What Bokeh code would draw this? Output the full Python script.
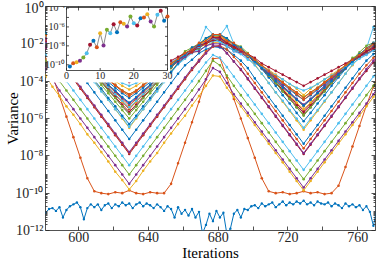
from math import pi
from bokeh.plotting import figure
from bokeh.models import (Range1d, LogScale, LinearAxis, LogAxis, FixedTicker,
                          CustomJSTickFormatter)
from bokeh.core.properties import value
from bokeh.embed import file_html
from bokeh.resources import INLINE

# ---------------- data (log10 of variance) ----------------
iterations = list(range(581, 778, 4))        # 50 samples
iterations_fine = list(range(581, 778, 2))   # 99 samples (run 1)

log_var_01 = [-11.05, -10.85, -10.8, -10.95, -10.75, -11.3, -10.9, -10.7, -10.6, -10.5,
              -10.75, -11.4, -10.8, -10.6, -10.75, -10.6, -10.9, -10.65, -10.55, -10.8,
              -10.6, -10.7, -10.5, -10.65, -10.55, -10.8, -10.6, -10.5, -10.7, -10.55,
              -10.65, -10.8, -10.6, -10.75, -10.95, -10.7, -10.85, -11.3, -10.75, -11.1,
              -10.9, -11.2, -10.85, -11.3, -11.0, -12.15, -11.7, -11.1, -11.5, -10.95,
              -11.3, -11.05, -12.2, -11.9, -11.1, -10.9, -11.3, -10.85, -10.9, -10.7,
              -10.65, -10.8, -10.55, -10.7, -10.6, -10.5, -10.75, -10.6, -10.45, -10.65,
              -10.5, -10.6, -10.45, -10.55, -10.4, -10.6, -10.5, -10.65, -10.45, -10.55,
              -10.6, -10.5, -10.7, -10.55, -10.65, -10.8, -10.55, -10.7, -10.6, -10.75,
              -10.65, -10.9, -10.7, -11.0, -11.75, -10.8, -11.85, -10.9, -11.0]
log_var_02 = [-2.8, -3.7, -4.8, -5.9, -7.0, -8.1, -9.2, -9.9, -10.0, -10.05, -9.95, -10.0, -9.85,
              -10.0, -10.05, -9.95, -10.0, -10.0, -9.5, -8.4, -7.3, -6.2, -5.1, -3.9, -2.8,
              -2.75, -3.8, -4.95, -6.0, -7.05, -8.1, -9.2, -9.9, -10.0, -9.95, -10.05, -10.0, -9.9,
              -10.0, -9.95, -10.05, -10.0, -9.6, -8.6, -7.5, -6.4, -5.3, -4.3, -3.4, -2.85]
log_var_03 = [-3.7, -4.3, -4.8, -5.35, -5.8, -6.3, -6.85, -7.3, -7.8, -8.3, -8.85, -9.3, -9.8,
              -9.35, -8.8, -8.3, -7.85, -7.3, -6.8, -6.3, -5.85, -5.3, -4.8, -4.25, -3.7,
              -3.75, -4.35, -4.85, -5.35, -5.85, -6.35, -6.85, -7.35, -7.85, -8.35, -8.85, -9.35, -9.85,
              -9.35, -8.85, -8.35, -7.85, -7.35, -6.85, -6.35, -5.85, -5.35, -4.85, -4.3, -3.75]
log_var_04 = [-3.3, -3.9, -4.5, -5.0, -5.5, -6.0, -6.5, -7.0, -7.5, -8.0, -8.5, -9.0, -9.5,
              -9.0, -8.5, -8.0, -7.5, -7.0, -6.5, -6.0, -5.5, -5.0, -4.45, -3.9, -3.3,
              -3.5, -4.1, -4.7, -5.2, -5.7, -6.2, -6.7, -7.2, -7.7, -8.2, -8.7, -9.2, -9.7,
              -9.2, -8.7, -8.2, -7.7, -7.2, -6.7, -6.2, -5.7, -5.2, -4.7, -4.1, -3.5]
log_var_05 = [-2.9, -3.45, -4.0, -4.5, -5.0, -5.5, -6.0, -6.5, -7.0, -7.5, -8.0, -8.5, -9.0,
              -8.5, -8.0, -7.5, -7.0, -6.5, -6.0, -5.5, -5.0, -4.5, -4.0, -3.45, -2.9,
              -3.15, -3.7, -4.25, -4.75, -5.25, -5.75, -6.25, -6.75, -7.25, -7.75, -8.25, -8.75, -9.25,
              -8.75, -8.25, -7.75, -7.25, -6.75, -6.25, -5.75, -5.25, -4.75, -4.25, -3.7, -3.15]
log_var_06 = [-2.55, -3.0, -3.5, -4.0, -4.5, -5.0, -5.5, -6.0, -6.5, -7.0, -7.5, -8.0, -8.5,
              -8.0, -7.5, -7.0, -6.5, -6.0, -5.5, -5.0, -4.5, -4.0, -3.5, -3.0, -2.6,
              -2.75, -3.25, -3.75, -4.25, -4.75, -5.25, -5.75, -6.25, -6.75, -7.25, -7.75, -8.25, -8.75,
              -8.25, -7.75, -7.25, -6.75, -6.25, -5.75, -5.25, -4.75, -4.25, -3.75, -3.25, -2.8]
log_var_07 = [-2.2, -2.55, -2.95, -3.4, -3.9, -4.4, -4.9, -5.4, -5.9, -6.4, -6.9, -7.4, -7.9,
              -7.4, -6.9, -6.4, -5.9, -5.4, -4.9, -4.4, -3.9, -3.4, -2.95, -2.5, -2.15,
              -2.1, -2.5, -2.95, -3.4, -3.9, -4.4, -4.9, -5.4, -5.9, -6.4, -6.9, -7.4, -7.9,
              -7.4, -6.9, -6.4, -5.9, -5.4, -4.9, -4.4, -3.9, -3.45, -3.0, -2.55, -2.2]
log_var_08 = [-2.05, -2.4, -2.6, -2.75, -3.15, -3.6, -4.1, -4.6, -5.1, -5.6, -6.1, -6.6, -7.1,
              -6.6, -6.1, -5.6, -5.1, -4.6, -4.1, -3.6, -3.15, -2.85, -2.5, -2.3, -2.15,
              -2.2, -2.3, -2.6, -2.9, -3.3, -3.85, -4.35, -4.85, -5.35, -5.85, -6.35, -6.85, -7.35,
              -6.85, -6.35, -5.85, -5.35, -4.85, -4.35, -3.85, -3.35, -2.9, -2.55, -2.35, -2.0]
log_var_09 = [-2.0, -2.5, -2.9, -3.35, -3.85, -4.35, -4.85, -5.35, -5.85, -6.35, -6.85, -7.35, -7.85,
              -7.35, -6.85, -6.35, -5.85, -5.35, -4.85, -4.35, -3.85, -3.35, -2.85, -2.4, -2.15,
              -2.1, -2.3, -2.7, -3.1, -3.6, -4.1, -4.6, -5.1, -5.6, -6.1, -6.6, -7.1, -7.6,
              -7.1, -6.6, -6.1, -5.6, -5.1, -4.6, -4.1, -3.6, -3.15, -2.75, -2.4, -2.0]
log_var_10 = [-1.85, -2.2, -2.3, -2.55, -2.7, -3.05, -3.5, -4.0, -4.5, -5.0, -5.5, -6.0, -6.5,
              -6.0, -5.5, -5.0, -4.5, -4.0, -3.5, -3.0, -2.75, -2.45, -2.4, -2.1, -1.95,
              -1.9, -2.15, -2.35, -2.45, -2.75, -3.1, -3.6, -4.1, -4.6, -5.1, -5.6, -6.1, -6.6,
              -6.1, -5.6, -5.1, -4.6, -4.1, -3.6, -3.15, -2.7, -2.5, -2.3, -2.05, -1.8]
log_var_11 = [-2.2, -2.4, -2.85, -3.3, -3.8, -4.3, -4.8, -5.3, -5.8, -6.3, -6.8, -7.3, -7.8,
              -7.3, -6.8, -6.3, -5.8, -5.3, -4.8, -4.3, -3.8, -3.3, -2.9, -2.5, -2.1,
              -2.15, -2.5, -2.95, -3.35, -3.85, -4.35, -4.85, -5.35, -5.85, -6.35, -6.85, -7.35, -7.85,
              -7.35, -6.85, -6.35, -5.85, -5.35, -4.85, -4.35, -3.85, -3.35, -2.9, -2.45, -2.25]
log_var_12 = [-1.75, -2.05, -2.25, -2.35, -2.65, -2.95, -3.3, -3.75, -4.2, -4.65, -5.1, -5.55, -6.0,
              -5.55, -5.1, -4.65, -4.2, -3.75, -3.3, -2.9, -2.55, -2.45, -2.15, -1.95, -1.85,
              -1.8, -1.95, -2.25, -2.35, -2.65, -2.8, -3.2, -3.6, -4.05, -4.5, -4.95, -5.4, -5.85,
              -5.4, -4.95, -4.5, -4.05, -3.6, -3.2, -2.75, -2.6, -2.4, -2.2, -2.05, -1.75]
log_var_13 = [-1.95, -2.05, -2.3, -2.55, -2.75, -3.15, -3.55, -4.05, -4.55, -5.0, -5.5, -5.95, -6.45,
              -5.95, -5.5, -5.0, -4.55, -4.05, -3.55, -3.1, -2.8, -2.5, -2.3, -2.15, -1.85,
              -1.85, -2.15, -2.35, -2.45, -2.8, -3.15, -3.6, -4.1, -4.6, -5.05, -5.55, -6.0, -6.5,
              -6.0, -5.55, -5.05, -4.6, -4.1, -3.6, -3.1, -2.75, -2.55, -2.35, -2.1, -1.95]
log_var_14 = [-1.65, -2.0, -2.1, -2.4, -2.55, -2.9, -3.2, -3.6, -4.0, -4.35, -4.75, -5.1, -5.5,
              -5.1, -4.75, -4.35, -4.0, -3.6, -3.25, -2.85, -2.65, -2.3, -2.2, -1.9, -1.75,
              -1.7, -1.9, -2.15, -2.35, -2.6, -2.95, -3.3, -3.7, -4.1, -4.45, -4.85, -5.2, -5.6,
              -5.2, -4.85, -4.45, -4.1, -3.7, -3.3, -2.95, -2.6, -2.4, -2.1, -1.95, -1.6]
log_var_15 = [-1.75, -2.05, -2.2, -2.45, -2.7, -3.05, -3.5, -3.95, -4.4, -4.9, -5.35, -5.85, -6.3,
              -5.85, -5.35, -4.9, -4.4, -3.95, -3.5, -3.05, -2.7, -2.4, -2.25, -1.95, -1.8,
              -1.85, -2.0, -2.3, -2.4, -2.65, -2.95, -3.35, -3.8, -4.25, -4.75, -5.2, -5.7, -6.15,
              -5.7, -5.2, -4.75, -4.25, -3.8, -3.35, -2.95, -2.7, -2.45, -2.2, -2.0, -1.7]
log_var_16 = [-1.55, -1.9, -2.0, -2.3, -2.5, -2.9, -3.2, -3.55, -3.9, -4.25, -4.6, -4.95, -5.3,
              -4.95, -4.6, -4.25, -3.9, -3.55, -3.2, -2.85, -2.6, -2.25, -2.1, -1.8, -1.65,
              -1.6, -1.85, -2.1, -2.3, -2.55, -2.9, -3.25, -3.6, -3.95, -4.3, -4.65, -5.0, -5.35,
              -5.0, -4.65, -4.3, -3.95, -3.6, -3.25, -2.9, -2.55, -2.35, -2.0, -1.85, -1.55]
log_var_17 = [-1.8, -1.95, -2.25, -2.35, -2.7, -2.95, -3.25, -3.6, -3.95, -4.35, -4.7, -5.1, -5.45,
              -5.1, -4.7, -4.35, -3.95, -3.6, -3.2, -2.9, -2.6, -2.45, -2.15, -2.05, -1.75,
              -1.75, -2.05, -2.15, -2.45, -2.65, -3.0, -3.3, -3.65, -4.0, -4.4, -4.75, -5.15, -5.5,
              -5.15, -4.75, -4.4, -4.0, -3.65, -3.3, -2.95, -2.7, -2.35, -2.25, -1.95, -1.85]
log_var_18 = [-1.9, -2.2, -2.3, -2.55, -2.6, -2.9, -3.3, -3.65, -4.05, -4.5, -4.9, -5.35, -5.75,
              -5.35, -4.9, -4.5, -4.05, -3.65, -3.25, -2.95, -2.7, -2.45, -2.4, -2.1, -2.0,
              -2.0, -2.1, -2.4, -2.5, -2.7, -2.9, -3.3, -3.7, -4.1, -4.55, -4.95, -5.4, -5.8,
              -5.4, -4.95, -4.55, -4.1, -3.7, -3.3, -2.85, -2.65, -2.55, -2.3, -2.2, -1.9]
log_var_19 = [-1.65, -2.0, -2.15, -2.45, -2.55, -2.85, -3.1, -3.35, -3.65, -3.9, -4.2, -4.5, -4.7,
              -4.5, -4.2, -3.9, -3.65, -3.35, -3.05, -2.85, -2.65, -2.35, -2.25, -1.9, -1.75,
              -1.75, -1.9, -2.2, -2.35, -2.65, -2.9, -3.2, -3.5, -3.8, -4.05, -4.35, -4.6, -4.85,
              -4.6, -4.35, -4.05, -3.8, -3.5, -3.2, -2.95, -2.6, -2.45, -2.15, -2.0, -1.65]
log_var_20 = [-1.6, -1.8, -2.1, -2.25, -2.65, -2.9, -3.25, -3.6, -3.95, -4.35, -4.7, -5.05, -5.4,
              -5.05, -4.7, -4.35, -3.95, -3.6, -3.25, -2.9, -2.55, -2.35, -2.0, -1.1, -1.5,
              -1.55, -1.05, -2.0, -2.35, -2.55, -2.85, -3.15, -3.5, -3.85, -4.25, -4.6, -4.95, -5.3,
              -4.95, -4.6, -4.25, -3.85, -3.5, -3.15, -2.85, -2.6, -2.25, -1.1, -1.8, -1.6]
log_var_21 = [-1.85, -1.95, -2.25, -2.4, -2.7, -2.95, -3.25, -3.65, -4.05, -4.45, -4.85, -5.25, -5.65,
              -5.25, -4.85, -4.45, -4.05, -3.65, -3.25, -2.9, -2.6, -2.45, -2.15, -2.0, -1.8,
              -1.8, -2.05, -2.2, -2.4, -2.65, -3.0, -3.3, -3.7, -4.1, -4.5, -4.9, -5.3, -5.7,
              -5.3, -4.9, -4.5, -4.1, -3.7, -3.3, -2.95, -2.7, -2.4, -2.2, -1.95, -1.85]
log_var_22 = [-1.45, -1.8, -2.0, -2.3, -2.6, -2.85, -3.15, -3.45, -3.75, -4.05, -4.35, -4.65, -4.9,
              -4.65, -4.35, -4.05, -3.75, -3.45, -3.15, -2.85, -2.55, -2.35, -2.05, -1.7, -1.55,
              -1.5, -1.75, -2.05, -2.3, -2.65, -2.95, -3.25, -3.55, -3.85, -4.15, -4.45, -4.75, -5.0,
              -4.75, -4.45, -4.15, -3.85, -3.55, -3.25, -2.95, -2.6, -2.3, -2.1, -1.75, -1.4]
log_var_23 = [-1.7, -1.9, -2.2, -2.3, -2.6, -2.8, -3.05, -3.35, -3.65, -3.95, -4.25, -4.55, -4.8,
              -4.55, -4.25, -3.95, -3.65, -3.35, -3.05, -2.8, -2.5, -2.4, -2.1, -2.0, -1.65,
              -1.65, -2.0, -2.1, -2.4, -2.6, -2.9, -3.2, -3.5, -3.8, -4.1, -4.4, -4.7, -5.0,
              -4.7, -4.4, -4.1, -3.8, -3.5, -3.2, -2.9, -2.55, -2.35, -2.2, -1.9, -1.75]
log_var_24 = [-1.55, -1.85, -2.1, -2.35, -2.55, -2.75, -3.0, -3.25, -3.5, -3.75, -4.0, -4.25, -4.45,
              -4.25, -4.0, -3.75, -3.5, -3.25, -3.0, -2.8, -2.5, -2.3, -2.15, -1.8, -1.6,
              -1.65, -1.8, -2.15, -2.35, -2.65, -2.9, -3.15, -3.4, -3.65, -3.9, -4.15, -4.4, -4.75,
              -4.4, -4.15, -3.9, -3.65, -3.4, -3.15, -2.9, -2.6, -2.35, -2.1, -1.9, -1.55]
log_var_25 = [-1.75, -1.9, -2.2, -2.35, -2.6, -2.9, -3.2, -3.5, -3.85, -4.2, -4.55, -4.9, -5.2,
              -4.9, -4.55, -4.2, -3.85, -3.5, -3.2, -2.85, -2.65, -2.3, -2.2, -1.9, -1.7,
              -1.7, -2.0, -2.1, -2.4, -2.55, -2.95, -3.25, -3.55, -3.9, -4.25, -4.6, -4.95, -5.25,
              -4.95, -4.6, -4.25, -3.9, -3.55, -3.25, -2.9, -2.6, -2.4, -2.15, -1.95, -1.7]
log_var_26 = [-1.45, -1.8, -1.9, -2.15, -2.45, -2.8, -3.2, -3.65, -4.05, -4.5, -4.9, -5.35, -5.75,
              -5.35, -4.9, -4.5, -4.05, -3.65, -3.25, -2.8, -2.4, -2.2, -2.0, -1.7, -1.5,
              -1.55, -1.7, -2.0, -2.15, -2.5, -2.85, -3.25, -3.7, -4.1, -4.55, -4.95, -5.4, -5.8,
              -5.4, -4.95, -4.55, -4.1, -3.7, -3.25, -2.85, -2.45, -2.1, -1.95, -1.8, -1.45]
log_var_27 = [-1.65, -1.95, -2.1, -2.3, -2.55, -2.8, -3.0, -3.2, -3.45, -3.65, -3.9, -4.1, -4.25,
              -4.1, -3.9, -3.65, -3.45, -3.2, -3.0, -2.75, -2.6, -2.3, -2.15, -1.9, -1.7,
              -1.9, -2.1, -2.4, -2.55, -2.85, -3.0, -3.25, -3.45, -3.7, -3.9, -4.15, -4.35, -4.5,
              -4.35, -4.15, -3.9, -3.7, -3.45, -3.25, -3.05, -2.8, -2.6, -2.35, -2.2, -1.85]
log_var_28 = [-1.7, -1.85, -2.1, -2.25, -2.5, -2.7, -2.9, -3.1, -3.3, -3.5, -3.7, -3.9, -4.05,
              -3.9, -3.7, -3.5, -3.3, -3.1, -2.9, -2.7, -2.5, -2.35, -2.1, -1.95, -1.65,
              -1.65, -1.95, -2.15, -2.35, -2.55, -2.75, -3.05, -3.25, -3.45, -3.65, -3.85, -4.05, -4.25,
              -4.05, -3.85, -3.65, -3.45, -3.25, -3.05, -2.85, -2.65, -2.4, -2.25, -1.95, -1.85]
log_var_29 = [-1.4, -1.8, -1.95, -2.25, -2.5, -2.9, -3.2, -3.55, -3.85, -4.2, -4.5, -4.85, -5.15,
              -4.85, -4.5, -4.2, -3.85, -3.55, -3.2, -2.85, -2.6, -2.2, -2.05, -1.7, -1.5,
              -1.5, -1.7, -2.05, -2.2, -2.6, -2.95, -3.3, -3.65, -4.0, -4.35, -4.65, -5.0, -5.3,
              -5.0, -4.65, -4.35, -4.0, -3.65, -3.3, -2.95, -2.55, -2.25, -1.95, -1.75, -1.35]
log_var_30 = [-1.55, -1.75, -2.05, -2.2, -2.55, -2.8, -3.1, -3.35, -3.65, -3.9, -4.2, -4.5, -4.7,
              -4.5, -4.2, -3.9, -3.65, -3.35, -3.05, -2.8, -2.5, -2.3, -1.95, -1.85, -1.5,
              -1.5, -1.85, -1.95, -2.3, -2.55, -2.85, -3.15, -3.45, -3.75, -4.05, -4.35, -4.6, -4.9,
              -4.6, -4.35, -4.05, -3.75, -3.45, -3.15, -2.85, -2.6, -2.25, -2.0, -1.8, -1.55]

# inset: one value per run
inset_runs = list(range(1, 31))
inset_log_var = [-10.18, -9.83, -9.73, -9.58, -9.23, -8.78, -7.89, -7.47, -8.14, -6.66,
                 -7.96, -6.3, -6.66, -5.71, -6.56, -5.5, -5.67, -5.96, -4.9, -5.61,
                 -5.85, -5.08, -5.01, -4.66, -5.43, -5.96, -4.72, -4.3, -5.35, -4.9]

x_tick_values = [580, 600, 620, 640, 660, 680, 700, 720, 740, 760, 780]
inset_x_ticks = [0, 10, 20, 30]
inset_x_labels = ["0", "10", "20", "30"]
inset_y_ticks = [1e-10, 1e-9, 1e-8, 1e-7, 1e-6, 1e-5, 1e-4]
inset_y_label_values = [1e-10, 1e-8, 1e-6, 1e-4]
inset_y_labels = ["10\u207b\u00b9\u2070", "10\u207b\u2078", "10\u207b\u2076", "10\u207b\u2074"]

# ---------------- style ----------------
MATLAB = ["#0072BD", "#D95319", "#EDB120", "#7E2F8E", "#77AC30", "#4DBEEE", "#A2142F"]
FONT = "Liberation Serif"
AX = "#262626"
FW, FH = 330, 224

p = figure(frame_width=FW, frame_height=FH, y_axis_type="log",
           x_range=Range1d(581, 770.2), y_range=Range1d(1e-12, 1.0),
           output_backend="svg", toolbar_location=None,
           min_border_left=45, min_border_right=2, min_border_top=6, min_border_bottom=31,
           background_fill_color="white", border_fill_color="white")
p.grid.visible = False
p.outline_line_color = AX
p.outline_line_width = 0.8

y_major = [10.0 ** e for e in range(-12, 1, 2)]
y_minor = [m * 10.0 ** e for e in range(-12, 0) for m in range(1, 10)
           if not (m == 1 and e % 2 == 0)]
xt = FixedTicker(ticks=x_tick_values)
yt = FixedTicker(ticks=y_major, minor_ticks=y_minor)
xfmt = CustomJSTickFormatter(code="const t = Math.round(tick); return (t % 40 === 0) ? String(t) : '';")
yfmt = CustomJSTickFormatter(code="""
const sup = {'-': '\u207b', '0': '\u2070', '1': '\u00b9', '2': '\u00b2', '3': '\u00b3',
             '4': '\u2074', '5': '\u2075', '6': '\u2076', '7': '\u2077', '8': '\u2078', '9': '\u2079'};
const e = Math.round(Math.log10(tick));
return '10' + String(e).split('').map(c => sup[c]).join('');
""")


def style_axis(ax, ticker, fmt, show, tick_len, standoff=3):
    ax.ticker = ticker
    ax.formatter = fmt if show else CustomJSTickFormatter(code="return '';")
    ax.axis_line_color = None
    ax.major_tick_line_color = AX
    ax.minor_tick_line_color = AX
    ax.major_tick_line_width = 0.8
    ax.minor_tick_line_width = 0.8
    ax.major_tick_in = tick_len
    ax.major_tick_out = 0
    ax.minor_tick_in = 2
    ax.minor_tick_out = 0
    ax.major_label_text_font = FONT
    ax.major_label_text_font_size = "14px" if show else "0px"
    ax.major_label_text_color = AX
    ax.major_label_standoff = standoff if show else 0
    ax.axis_label_text_font = FONT
    ax.axis_label_text_font_size = "15px"
    ax.axis_label_text_font_style = "normal"
    ax.axis_label_text_color = "#000000"


yax = p.yaxis[0]
style_axis(yax, yt, yfmt, True, 4, standoff=2)
yax.axis_label = "Variance"
yax.axis_label_standoff = -9
xax = p.xaxis[0]
style_axis(xax, xt, xfmt, True, 4, standoff=1)
xax.axis_label = "Iterations"
xax.axis_label_standoff = 0
right_ax = LogAxis()
style_axis(right_ax, yt, None, False, 4)
p.add_layout(right_ax, "right")
top_ax = LinearAxis()
style_axis(top_ax, xt, None, False, 4)
p.add_layout(top_ax, "above")

# ---------------- main curves ----------------
series = [log_var_02, log_var_03, log_var_04, log_var_05, log_var_06, log_var_07, log_var_08,
          log_var_09, log_var_10, log_var_11, log_var_12, log_var_13, log_var_14, log_var_15,
          log_var_16, log_var_17, log_var_18, log_var_19, log_var_20, log_var_21, log_var_22,
          log_var_23, log_var_24, log_var_25, log_var_26, log_var_27, log_var_28, log_var_29,
          log_var_30]

ys1 = [10.0 ** v for v in log_var_01]
p.line(iterations_fine, ys1, line_color=MATLAB[0], line_width=1)
p.scatter(iterations_fine, ys1, size=2.4, fill_color=MATLAB[0], line_color=None)
for k, lv in enumerate(series, start=2):
    c = MATLAB[(k - 1) % 7]
    ys = [10.0 ** v for v in lv]
    p.line(iterations, ys, line_color=c, line_width=1)
    p.scatter(iterations, ys, size=2.6, fill_color=c, line_color=None)

# ---------------- inset (drawn in extra ranges) ----------------
IN_L, IN_R, IN_T, IN_B = 21, 122, 1, 64          # px inside the main frame
IN_X0, IN_X1 = 0, 30
IN_LOG_BOT, IN_LOG_TOP = -10.6, -3.95
sx = (IN_X1 - IN_X0) / (IN_R - IN_L)
sy = (IN_LOG_TOP - IN_LOG_BOT) / (IN_B - IN_T)
ix0 = IN_X0 - IN_L * sx
ix1 = IN_X1 + (FW - IN_R) * sx
iy_top = IN_LOG_TOP + IN_T * sy
iy_bot = IN_LOG_BOT - (FH - IN_B) * sy
p.extra_x_ranges = {"ix": Range1d(ix0, ix1)}
p.extra_y_ranges = {"iy": Range1d(10 ** iy_bot, 10 ** iy_top)}
p.extra_y_scales = {"iy": LogScale()}
R = dict(x_range_name="ix", y_range_name="iy")

p.quad(left=[IN_X0 - 19.5 * sx], right=[IN_X1 + 2.5 * sx],
       bottom=[10 ** (IN_LOG_BOT - 12 * sy)], top=[10 ** IN_LOG_TOP],
       fill_color="white", line_color=None, **R)
p.quad(left=[IN_X0], right=[IN_X1], bottom=[10 ** IN_LOG_BOT], top=[10 ** IN_LOG_TOP],
       fill_color=None, line_color=AX, line_width=0.8, **R)
n = len(inset_x_ticks)
p.ray(x=inset_x_ticks, y=[10 ** IN_LOG_BOT] * n, length=2.5, length_units="screen",
      angle=pi / 2, line_color=AX, line_width=0.8, **R)
p.ray(x=inset_x_ticks, y=[10 ** IN_LOG_TOP] * n, length=2.5, length_units="screen",
      angle=-pi / 2, line_color=AX, line_width=0.8, **R)
m = len(inset_y_ticks)
p.ray(x=[IN_X0] * m, y=inset_y_ticks, length=2.5, length_units="screen",
      angle=0, line_color=AX, line_width=0.8, **R)
p.ray(x=[IN_X1] * m, y=inset_y_ticks, length=2.5, length_units="screen",
      angle=pi, line_color=AX, line_width=0.8, **R)
p.text(x=[IN_X0] * len(inset_y_label_values), y=inset_y_label_values, text=inset_y_labels,
       x_offset=-1.5, text_align="right", text_baseline="middle",
       text_font=value(FONT), text_font_size="10px", text_color=AX, **R)
p.text(x=inset_x_ticks, y=[10 ** (IN_LOG_BOT - 1.5 * sy)] * n, text=inset_x_labels,
       text_align="center", text_baseline="top",
       text_font=value(FONT), text_font_size="10px", text_color=AX, **R)

iys = [10.0 ** v for v in inset_log_var]
p.line(inset_runs, iys, line_color="#8c8c8c", line_width=1, **R)
p.scatter(inset_runs, iys, size=4, fill_color=[MATLAB[(k - 1) % 7] for k in inset_runs],
          line_color=None, **R)

open("out.html", "w").write(file_html(p, INLINE))
